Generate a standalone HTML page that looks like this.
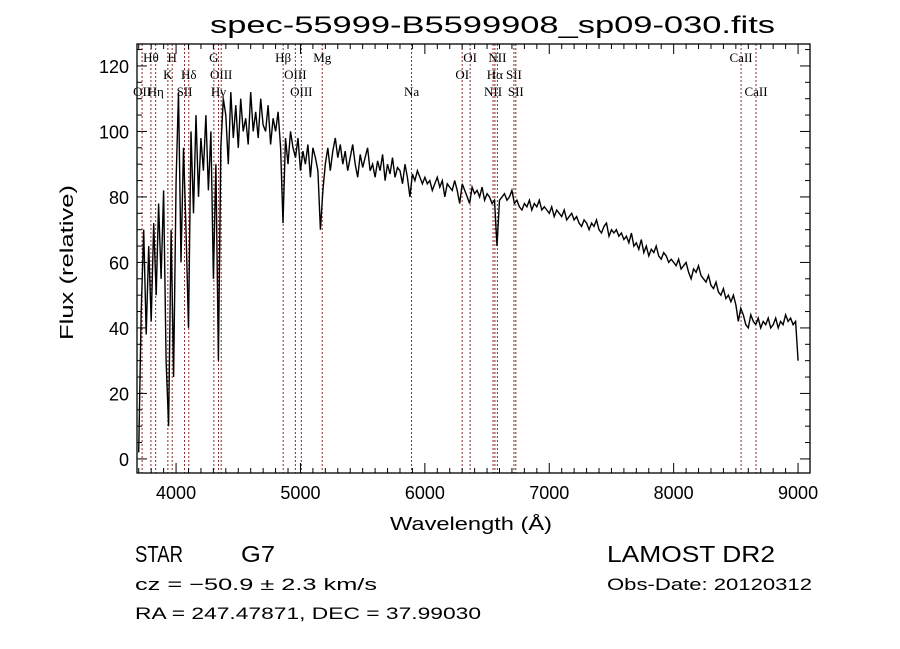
<!DOCTYPE html>
<html><head><meta charset="utf-8"><style>
html,body{margin:0;padding:0;background:#fff;}
svg{display:block;font-family:"Liberation Sans",sans-serif;}
</style></head><body>
<svg id="chart" width="900" height="649" viewBox="0 0 900 649">
<rect width="900" height="649" fill="#fff"/>
<text x="210" y="33" font-size="24" textLength="565" lengthAdjust="spacingAndGlyphs">spec-55999-B5599908_sp09-030.fits</text>
<g id="lines"></g>
<g id="series"></g>
<g id="axes"></g>
<text x="390" y="530" font-size="18" textLength="162" lengthAdjust="spacingAndGlyphs">Wavelength (Å)</text>
<text transform="translate(73,340) rotate(-90)" font-size="18" textLength="155" lengthAdjust="spacingAndGlyphs">Flux (relative)</text>
<text x="135" y="562" font-size="23" textLength="48" lengthAdjust="spacingAndGlyphs">STAR</text>
<text x="241" y="562" font-size="23" textLength="34" lengthAdjust="spacingAndGlyphs">G7</text>
<text x="607" y="562" font-size="23" textLength="168" lengthAdjust="spacingAndGlyphs">LAMOST DR2</text>
<text x="135" y="590" font-size="17" textLength="242" lengthAdjust="spacingAndGlyphs">cz = −50.9 ± 2.3 km/s</text>
<text x="607" y="590" font-size="17" textLength="205" lengthAdjust="spacingAndGlyphs">Obs-Date: 20120312</text>
<text x="135" y="619" font-size="17" textLength="346" lengthAdjust="spacingAndGlyphs">RA = 247.47871, DEC =  37.99030</text>
</svg>
<script>
const waveStart = 3700;
const waveStep = 20;
const fluxValues = [
2,45,70,38,65,42,72,50,78,55,82,30,10,70,25,
85,112,60,95,70,40,100,75,105,80,98,88,105,82,100,55,90,30,95,110,
105,90,112,98,108,95,110,100,104,96,112,100,106,98,110,102,100,108,96,104,
100,106,95,72,98,90,100,95,92,98,88,94,90,96,86,95,92,88,70,82,
90,95,88,94,98,92,96,90,94,88,92,96,90,86,93,89,92,95,88,90,
86,91,88,93,85,90,87,92,86,89,88,84,90,86,80,87,85,88,86,84,
86,84,85,82,84,86,83,85,80,84,83,82,85,82,78,84,82,80,78,83,
81,82,80,83,79,81,80,78,79,65,79,80,81,79,80,82,78,79,77,76,
78,77,79,76,78,77,79,76,77,76,75,77,74,76,75,74,76,73,74,75,
73,74,72,71,73,72,70,72,71,73,70,69,71,72,68,70,69,70,68,69,
67,68,66,69,65,66,64,67,63,65,62,64,63,65,62,61,63,62,60,61,
60,59,61,58,59,60,57,55,58,57,59,56,55,54,56,53,52,54,51,50,
52,49,50,48,50,47,42,46,44,41,40,44,42,41,43,40,42,41,43,40,
41,43,40,42,41,44,42,43,41,42,30];
const xTicks = [4000,5000,6000,7000,8000,9000];
const yTicks = [0,20,40,60,80,100,120];
const lineWaves = [3727,3798,3836,3934,3969,4068,4102,4304,4341,4363,4861,4959,5007,5175,5893,6300,6364,6548,6563,6583,6716,6731,8542,8662];
const lineNames = ["OII","Hθ","Hη","K","H","SII","Hδ","G","Hγ","OIII","Hβ","OIII","OIII","Mg","Na","OI","OI","NII","Hα","NII","SII","SII","CaII","CaII"];
const lineRows = [2,0,2,1,0,2,1,0,2,1,0,1,2,0,2,1,0,2,1,0,1,2,0,2];

const L=137,R=810,T=44,B=473;
const X0=3686,X1=9096,Y0=-4.3,Y1=126.7;
const sx=w=>L+(w-X0)/(X1-X0)*(R-L);
const sy=v=>B-(v-Y0)/(Y1-Y0)*(B-T);
const NS="http://www.w3.org/2000/svg";
function mk(tag,attrs,parent){const e=document.createElementNS(NS,tag);for(const k in attrs)e.setAttribute(k,attrs[k]);parent.appendChild(e);return e;}

const gl=document.getElementById('lines');
lineWaves.forEach((w,i)=>{
  const x=sx(w);
  const ln=mk('line',{x1:x,x2:x,y1:T,y2:B,stroke:'#8b2a2a','stroke-width':1,'stroke-dasharray':'2,2'},gl);
  
  
  const t=mk('text',{x:x,y:62+lineRows[i]*17,'font-size':13,'text-anchor':'middle','font-family':'Liberation Serif, serif'},gl);
  t.textContent=lineNames[i];
  
  
});

const gs=document.getElementById('series');
let d='';
fluxValues.forEach((v,i)=>{const w=waveStart+i*waveStep;d+=(i?'L':'M')+sx(w).toFixed(1)+','+sy(v).toFixed(1);});
const p=mk('path',{d:d,fill:'none',stroke:'#000','stroke-width':1.4},gs);



const ga=document.getElementById('axes');
const box=mk('rect',{x:L,y:T,width:R-L,height:B-T,fill:'none',stroke:'#000','stroke-width':1.3},ga);


for(let w=3700;w<=9096;w+=100){
  const x=sx(w),len=(w%1000===0)?10:5;
  mk('line',{x1:x,x2:x,y1:B,y2:B-len,stroke:'#000'},ga);
  mk('line',{x1:x,x2:x,y1:T,y2:T+len,stroke:'#000'},ga);
}
for(let v=0;v<=125;v+=5){
  const y=sy(v),len=(v%20===0)?10:5;
  mk('line',{x1:L,x2:L+len,y1:y,y2:y,stroke:'#000'},ga);
  mk('line',{x1:R,x2:R-len,y1:y,y2:y,stroke:'#000'},ga);
}
xTicks.forEach(w=>{const t=mk('text',{x:sx(w),y:B+26,'font-size':18,'text-anchor':'middle'},ga);t.textContent=w;
  
  });
yTicks.forEach(v=>{const t=mk('text',{x:L-8,y:sy(v)+7,'font-size':18,'text-anchor':'end'},ga);t.textContent=v;
  
  });
</script>
</body></html>
